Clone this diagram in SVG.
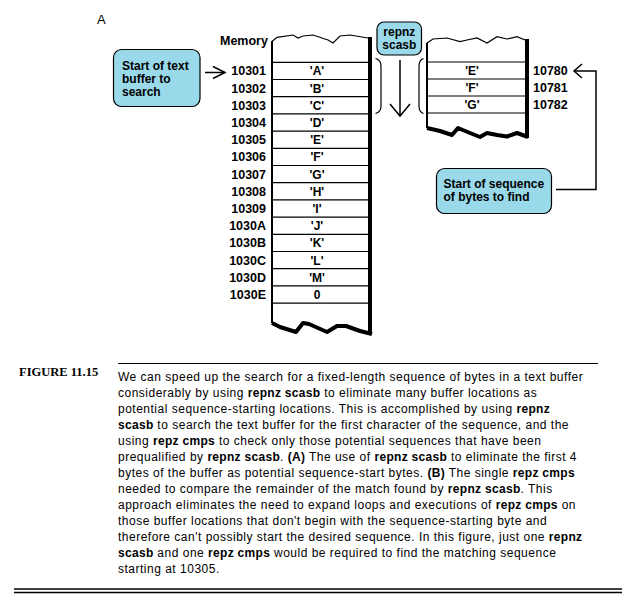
<svg xmlns="http://www.w3.org/2000/svg" width="637" height="611" viewBox="0 0 637 611">
<style>
.lbl{font-family:"Liberation Sans",Arial,sans-serif;font-weight:bold;font-size:12.5px;fill:#000}
.cell{font-family:"Liberation Sans",Arial,sans-serif;font-weight:bold;font-size:12px;fill:#000;text-anchor:middle}
.call{font-family:"Liberation Sans",Arial,sans-serif;font-weight:bold;font-size:12px;fill:#000}
.box{fill:#99d9ea;stroke:#000;stroke-width:1.2}
.cap{font-family:"Liberation Sans",Arial,sans-serif;font-size:12px;letter-spacing:0.5px;fill:#000}
.cap tspan.b{font-weight:bold;letter-spacing:0.3px}
.thin{stroke:#000;stroke-width:1.2;fill:none}
.edge{stroke:#000;stroke-width:2;fill:none}
.shadow{stroke:#000;stroke-width:4;fill:none;stroke-linejoin:round}
</style>
<rect width="637" height="611" fill="#fff"/>
<text x="97" y="24" style="font-family:'Liberation Sans',Arial,sans-serif;font-size:13px">A</text>
<text x="220" y="45" class="lbl">Memory</text>

<g id="text-buffer">
  <path class="thin" d="M272,41.5 L277,37.3 L293,35 L298,38 L303,36 L313,35 L328,40 L333,43 L340,36 L350,35 L368,38"/>
  <line class="edge" x1="272" y1="41" x2="272" y2="323"/>
  <rect x="368" y="37" width="4" height="297" fill="#000"/>
  <path class="shadow" d="M272,323 L280,327 L296,332 L303,323 L309,324 L327,332 L337,326 L346,326 L360,331 L372,334"/>
  <g class="thin">
    <line x1="273" y1="62.3" x2="368" y2="62.3"/>
    <line x1="273" y1="79.5" x2="368" y2="79.5"/>
    <line x1="273" y1="96.7" x2="368" y2="96.7"/>
    <line x1="273" y1="113.9" x2="368" y2="113.9"/>
    <line x1="273" y1="131.1" x2="368" y2="131.1"/>
    <line x1="273" y1="148.3" x2="368" y2="148.3"/>
    <line x1="273" y1="165.5" x2="368" y2="165.5"/>
    <line x1="273" y1="182.7" x2="368" y2="182.7"/>
    <line x1="273" y1="199.9" x2="368" y2="199.9"/>
    <line x1="273" y1="217.1" x2="368" y2="217.1"/>
    <line x1="273" y1="234.3" x2="368" y2="234.3"/>
    <line x1="273" y1="251.5" x2="368" y2="251.5"/>
    <line x1="273" y1="268.7" x2="368" y2="268.7"/>
    <line x1="273" y1="285.9" x2="368" y2="285.9"/>
    <line x1="273" y1="303.1" x2="368" y2="303.1"/>
  </g>
  <g class="cell">
    <text x="317" y="75.4">'A'</text>
    <text x="317" y="92.6">'B'</text>
    <text x="317" y="109.8">'C'</text>
    <text x="317" y="127">'D'</text>
    <text x="317" y="144.2">'E'</text>
    <text x="317" y="161.4">'F'</text>
    <text x="317" y="178.6">'G'</text>
    <text x="317" y="195.8">'H'</text>
    <text x="317" y="213">'I'</text>
    <text x="317" y="230.2">'J'</text>
    <text x="317" y="247.4">'K'</text>
    <text x="317" y="264.6">'L'</text>
    <text x="317" y="281.8">'M'</text>
    <text x="317" y="299">0</text>
  </g>
  <g class="lbl" text-anchor="end">
    <text x="266" y="75.4">10301</text>
    <text x="266" y="92.6">10302</text>
    <text x="266" y="109.8">10303</text>
    <text x="266" y="127">10304</text>
    <text x="266" y="144.2">10305</text>
    <text x="266" y="161.4">10306</text>
    <text x="266" y="178.6">10307</text>
    <text x="266" y="195.8">10308</text>
    <text x="266" y="213">10309</text>
    <text x="266" y="230.2">1030A</text>
    <text x="266" y="247.4">1030B</text>
    <text x="266" y="264.6">1030C</text>
    <text x="266" y="281.8">1030D</text>
    <text x="266" y="299">1030E</text>
  </g>
</g>

<g id="sequence-buffer">
  <path class="thin" d="M427,43 L433,39 L447,38 L460,41.7 L467,40 L477,38 L487,43 L497,36.7 L507,39 L517,36.7 L525,40"/>
  <line class="edge" x1="427" y1="43" x2="427" y2="128"/>
  <rect x="525" y="39" width="4" height="99" fill="#000"/>
  <path class="shadow" d="M427,128 L440,131 L452,135 L458,128 L470,133 L480,137 L487,133 L497,135 L507,136.5 L517,133 L528,137"/>
  <g class="thin">
    <line x1="428" y1="62" x2="525" y2="62"/>
    <line x1="428" y1="79" x2="525" y2="79"/>
    <line x1="428" y1="96" x2="525" y2="96"/>
    <line x1="428" y1="113" x2="525" y2="113"/>
  </g>
  <g class="cell">
    <text x="472" y="75">'E'</text>
    <text x="472" y="92">'F'</text>
    <text x="472" y="109">'G'</text>
  </g>
  <g class="lbl">
    <text x="533" y="75">10780</text>
    <text x="533" y="92">10781</text>
    <text x="533" y="109">10782</text>
  </g>
</g>

<g id="callout-text-buffer">
  <rect class="box" x="113.5" y="49.5" width="86.5" height="57" rx="8"/>
  <text class="call" x="122" y="69.5">Start of text</text>
  <text class="call" x="122" y="82.7">buffer to</text>
  <text class="call" x="122" y="95.5">search</text>
</g>

<g id="callout-repnz">
  <rect class="box" x="377" y="22" width="44.5" height="33" rx="7"/>
  <text class="call" x="399.3" y="35.5" text-anchor="middle">repnz</text>
  <text class="call" x="399.3" y="49" text-anchor="middle">scasb</text>
</g>

<g id="callout-sequence">
  <rect class="box" x="436.5" y="168.5" width="115" height="45" rx="8"/>
  <text class="call" x="443.5" y="187.5">Start of sequence</text>
  <text class="call" x="443.5" y="200.5">of bytes to find</text>
</g>

<g id="connectors" fill="none" stroke="#000" stroke-width="1.5">
  <path d="M205,72.5 H225"/>
  <path d="M213,66.5 L225,72.5 L213,78.5"/>
  <path d="M375.5,58.5 Q381,60 381,66 V106 Q381,112 375.5,113.5" stroke-width="1.2"/>
  <path d="M423.5,58.5 Q419,60 419,66 V106 Q419,112 423.5,113.5" stroke-width="1.2"/>
  <path d="M400,60 V116"/>
  <path d="M390,104 L400,116 L410,104"/>
  <path d="M556,189.5 H596 V71 H574"/>
  <path d="M582,64 L574,71 L582,78"/>
</g>

<g id="caption">
  <line x1="118" y1="363.5" x2="598" y2="363.5" stroke="#000" stroke-width="1"/>
  <text x="19" y="376" style="font-family:'Liberation Serif','Times New Roman',serif;font-weight:bold;font-size:12.5px">FIGURE 11.15</text>
  <text class="cap" x="118" y="381">We can speed up the search for a fixed-length sequence of bytes in a text buffer</text>
  <text class="cap" x="118" y="397">considerably by using <tspan class="b">repnz scasb</tspan> to eliminate many buffer locations as</text>
  <text class="cap" x="118" y="413">potential sequence-starting locations. This is accomplished by using <tspan class="b">repnz</tspan></text>
  <text class="cap" x="118" y="429"><tspan class="b">scasb</tspan> to search the text buffer for the first character of the sequence, and the</text>
  <text class="cap" x="118" y="445">using <tspan class="b">repz cmps</tspan> to check only those potential sequences that have been</text>
  <text class="cap" x="118" y="461">prequalified by <tspan class="b">repnz scasb</tspan>. <tspan class="b">(A)</tspan> The use of <tspan class="b">repnz scasb</tspan> to eliminate the first 4</text>
  <text class="cap" x="118" y="477">bytes of the buffer as potential sequence-start bytes. <tspan class="b">(B)</tspan> The single <tspan class="b">repz cmps</tspan></text>
  <text class="cap" x="118" y="493">needed to compare the remainder of the match found by <tspan class="b">repnz scasb</tspan>. This</text>
  <text class="cap" x="118" y="509">approach eliminates the need to expand loops and executions of <tspan class="b">repz cmps</tspan> on</text>
  <text class="cap" x="118" y="525">those buffer locations that don't begin with the sequence-starting byte and</text>
  <text class="cap" x="118" y="541">therefore can't possibly start the desired sequence. In this figure, just one <tspan class="b">repnz</tspan></text>
  <text class="cap" x="118" y="557"><tspan class="b">scasb</tspan> and one <tspan class="b">repz cmps</tspan> would be required to find the matching sequence</text>
  <text class="cap" x="118" y="573">starting at 10305.</text>
  <line x1="14" y1="589" x2="622" y2="589" stroke="#000" stroke-width="1.5"/>
  <line x1="14" y1="592.5" x2="622" y2="592.5" stroke="#000" stroke-width="1.5"/>
</g>
</svg>
